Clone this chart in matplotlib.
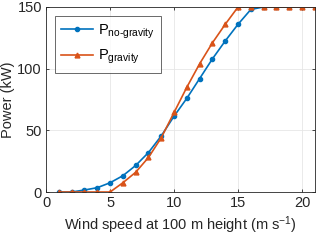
import matplotlib
matplotlib.use('Agg')
from matplotlib import pyplot as plt

plt.rcParams['font.family'] = ['Liberation Sans', 'DejaVu Sans']
plt.rcParams['mathtext.fontset'] = 'custom'
plt.rcParams['mathtext.rm'] = 'Liberation Sans'
plt.rcParams['mathtext.it'] = 'Liberation Sans:italic'

wind = list(range(1, 22))
p_no_gravity = [0, 0, 1.6, 3.5, 7.5, 13.2, 21.5, 32, 45.5, 61.5, 76, 92, 108,
                122.5, 136, 148, 150, 150, 150, 150, 150]
p_gravity = [0, 0, 0, 0, 0, 7.5, 16, 28, 44, 64.5, 85, 104, 121,
             136, 150, 150, 150, 150, 150, 150, 150]

fig = plt.figure(figsize=(3.2, 2.4), dpi=100)
ax = fig.add_axes([0.144, 0.2, 0.84, 0.771])

blue = '#0072BD'
orange = '#D95319'
ax.plot(wind, p_no_gravity, color=blue, marker='o', markersize=3, lw=1.2,
        label='P$_{\\mathrm{no\u2010gravity}}$')
ax.plot(wind, p_gravity, color=orange, marker='^', markersize=3.5, lw=1.2,
        label='P$_{\\mathrm{gravity}}$')

ax.set_xlim(0, 21)
ax.set_ylim(0, 150)
ax.set_xticks([0, 5, 10, 15, 20])
ax.set_yticks([0, 50, 100, 150])
ax.grid(True, color='#e6e6e6', lw=0.6)
ax.set_axisbelow(True)
ax.tick_params(direction='in', top=True, right=True, labelsize=10.5,
               length=2.5, width=0.6, color='#262626', labelcolor='#262626', pad=3)
for s in ax.spines.values():
    s.set_linewidth(0.6)
    s.set_color('#262626')

ax.set_xlabel('Wind speed at 100 m height (m s$^{-1}$)', fontsize=10.5,
              color='#262626', labelpad=3)
ax.set_ylabel('Power (kW)', fontsize=10.5, color='#262626', labelpad=2)

leg = ax.legend(loc='upper left', fontsize=10.5, frameon=True, fancybox=False,
                edgecolor='#262626', handlelength=2.2, borderpad=0.45,
                labelspacing=0.5, handletextpad=0.3, borderaxespad=0.6)
leg.get_frame().set_linewidth(0.6)

fig.savefig('out.png', dpi=100)
